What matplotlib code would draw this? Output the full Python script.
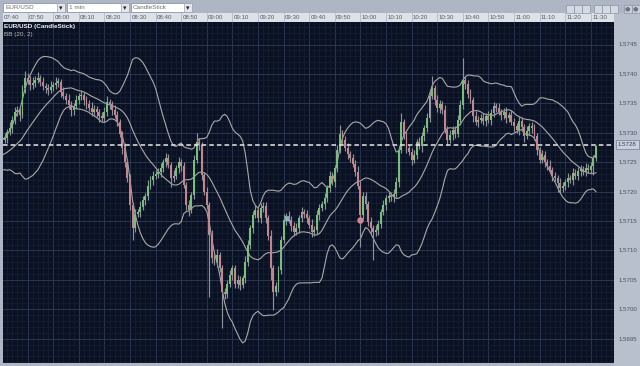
import numpy as np
import pandas as pd
import matplotlib
matplotlib.use("Agg")
import matplotlib.pyplot as plt
from matplotlib.patches import Rectangle
from matplotlib.ticker import MultipleLocator, FixedLocator

plt.rcParams["font.family"] = ["Liberation Sans", "DejaVu Sans"]

# ---------------- data ----------------
symbol = "EUR/USD"
timeframe = "1 min"
chart_type = "CandleStick"

# closes of the 20 minutes before the visible window (feed the BB(20,2))
pre_closes = [1.57245, 1.57250, 1.57240, 1.57254, 1.57257, 1.57249, 1.57254, 1.57262, 1.57257, 1.57250,
              1.57259, 1.57267, 1.57262, 1.57271, 1.57266, 1.57274, 1.57271, 1.57279, 1.57284, 1.57288]

# 1-minute closes, 07:41 ... 11:32
closes = [
    1.57291, 1.57301, 1.57308, 1.57322, 1.57335, 1.57339, 1.57330, 1.57376, 1.57393, 1.57390,
    1.57381, 1.57385, 1.57390, 1.57393, 1.57386, 1.57379, 1.57376, 1.57373, 1.57378, 1.57381,
    1.57385, 1.57386, 1.57369, 1.57362, 1.57356, 1.57347, 1.57339, 1.57346, 1.57356, 1.57362,
    1.57364, 1.57356, 1.57349, 1.57342, 1.57335, 1.57340, 1.57335, 1.57328, 1.57325, 1.57335,
    1.57352, 1.57349, 1.57339, 1.57330, 1.57318, 1.57298, 1.57274, 1.57250, 1.57223, 1.57177,
    1.57138, 1.57162, 1.57165, 1.57174, 1.57186, 1.57193, 1.57210, 1.57220, 1.57227, 1.57230,
    1.57234, 1.57240, 1.57250, 1.57257, 1.57245, 1.57223, 1.57227, 1.57240, 1.57250, 1.57244,
    1.57212, 1.57177, 1.57169, 1.57194, 1.57254, 1.57284, 1.57279, 1.57228, 1.57199, 1.57177,
    1.57126, 1.57087, 1.57081, 1.57093, 1.57070, 1.57029, 1.57026, 1.57043, 1.57058, 1.57070,
    1.57043, 1.57050, 1.57041, 1.57053, 1.57081, 1.57109, 1.57138, 1.57160, 1.57169, 1.57155,
    1.57172, 1.57176, 1.57155, 1.57125, 1.57070, 1.57029, 1.57039, 1.57067, 1.57118, 1.57152,
    1.57159, 1.57152, 1.57142, 1.57131, 1.57138, 1.57155, 1.57165, 1.57162, 1.57155, 1.57143,
    1.57131, 1.57135, 1.57160, 1.57172, 1.57179, 1.57189, 1.57206, 1.57227, 1.57217, 1.57240,
    1.57271, 1.57298, 1.57288, 1.57274, 1.57264, 1.57257, 1.57247, 1.57234, 1.57210, 1.57160,
    1.57193, 1.57179, 1.57148, 1.57138, 1.57131, 1.57135, 1.57145, 1.57165, 1.57177, 1.57189,
    1.57193, 1.57191, 1.57196, 1.57216, 1.57271, 1.57318, 1.57296, 1.57274, 1.57267, 1.57254,
    1.57262, 1.57284, 1.57277, 1.57294, 1.57308, 1.57325, 1.57362, 1.57376, 1.57356, 1.57342,
    1.57349, 1.57339, 1.57305, 1.57288, 1.57296, 1.57305, 1.57298, 1.57322, 1.57347, 1.57390,
    1.57383, 1.57366, 1.57356, 1.57328, 1.57318, 1.57322, 1.57325, 1.57320, 1.57328, 1.57322,
    1.57333, 1.57345, 1.57342, 1.57335, 1.57330, 1.57335, 1.57325, 1.57330, 1.57318, 1.57311,
    1.57305, 1.57320, 1.57310, 1.57294, 1.57303, 1.57311, 1.57308, 1.57294, 1.57271, 1.57254,
    1.57262, 1.57250, 1.57244, 1.57237, 1.57227, 1.57223, 1.57215, 1.57206, 1.57210, 1.57216,
    1.57223, 1.57220, 1.57232, 1.57227, 1.57235, 1.57237, 1.57234, 1.57240, 1.57237, 1.57244,
    1.57257, 1.57277]

# upper / lower wick lengths in pips (0.0001)
wick_up = [
    0.8, 0.5, 1.0, 0.6, 0.9, 0.7, 0.5, 0.6, 1.2, 0.8,
    0.6, 0.9, 0.7, 1.0, 0.5, 0.8, 0.6, 0.7, 1.0, 0.6,
    0.9, 0.7, 0.5, 0.8, 0.6, 1.0, 0.7, 0.5, 0.9, 0.6,
    0.8, 0.5, 0.7, 0.6, 1.0, 0.8, 0.5, 0.6, 0.7, 0.9,
    1.0, 0.6, 0.5, 0.8, 0.7, 0.6, 0.5, 0.9, 0.6, 0.7,
    0.5, 0.8, 0.6, 1.0, 0.7, 0.5, 0.9, 0.6, 0.8, 0.7,
    0.6, 0.9, 0.5, 0.8, 0.7, 0.6, 1.0, 0.5, 0.8, 0.6,
    0.7, 0.5, 0.9, 0.6, 0.8, 1.5, 0.7, 0.6, 0.5, 0.9,
    0.6, 0.8, 0.7, 1.0, 0.5, 0.6, 0.8, 0.7, 0.9, 0.6,
    0.5, 0.8, 0.7, 0.6, 1.0, 0.8, 0.6, 0.7, 0.9, 0.5,
    0.8, 0.6, 0.7, 0.5, 0.9, 0.6, 0.8, 0.7, 0.6, 1.0,
    0.5, 0.8, 0.6, 0.7, 0.9, 0.6, 0.8, 0.5, 0.7, 0.6,
    1.0, 0.6, 0.8, 0.7, 0.5, 0.9, 0.6, 0.8, 0.7, 0.6,
    0.9, 1.5, 0.7, 0.6, 0.8, 0.5, 0.7, 0.6, 0.9, 0.8,
    0.6, 0.7, 0.5, 0.8, 0.6, 0.9, 0.7, 0.6, 0.8, 0.5,
    0.7, 0.6, 0.9, 0.8, 0.7, 1.5, 0.6, 0.8, 0.5, 0.7,
    0.9, 0.6, 0.8, 0.7, 0.6, 0.9, 1.0, 2.0, 0.6, 0.8,
    0.7, 0.5, 0.9, 0.6, 0.8, 0.7, 0.6, 0.9, 0.8, 3.7,
    0.7, 0.6, 0.8, 0.5, 0.9, 0.6, 0.7, 0.8, 0.6, 0.9,
    0.7, 0.8, 0.6, 0.9, 0.5, 0.7, 0.8, 0.6, 0.9, 0.7,
    0.6, 0.8, 0.7, 0.5, 0.9, 0.6, 0.8, 0.7, 0.6, 0.5,
    0.8, 0.7, 0.6, 0.9, 0.5, 0.7, 0.6, 0.8, 0.7, 0.6,
    0.9, 0.5, 0.8, 0.6, 0.7, 0.9, 0.6, 0.8, 0.7, 0.6,
    0.5, 0.3]
wick_dn = [
    0.6, 0.8, 0.5, 0.9, 0.7, 0.6, 1.0, 0.5, 0.8, 0.7,
    0.9, 0.6, 0.8, 0.5, 0.7, 0.6, 0.9, 0.8, 0.5, 0.7,
    0.6, 0.8, 0.9, 0.5, 0.7, 0.6, 1.0, 0.8, 0.5, 0.7,
    0.6, 0.9, 0.8, 0.5, 0.7, 0.6, 0.8, 1.0, 0.5, 0.7,
    0.6, 0.8, 0.9, 0.5, 0.7, 0.6, 1.0, 0.8, 0.6, 0.9,
    2.0, 0.7, 0.6, 0.8, 0.5, 0.9, 0.7, 0.6, 0.8, 0.5,
    0.7, 0.9, 0.6, 0.8, 0.5, 1.5, 0.7, 0.6, 0.8, 0.9,
    0.6, 0.8, 1.0, 0.5, 0.7, 0.6, 0.8, 0.9, 0.5, 0.7,
    10.5, 0.8, 0.6, 0.9, 0.7, 6.0, 0.8, 0.6, 0.5, 0.9,
    0.7, 0.6, 0.8, 0.5, 0.9, 0.7, 0.6, 0.8, 0.5, 0.7,
    0.9, 0.6, 0.8, 0.7, 2.0, 3.0, 0.6, 0.9, 0.7, 0.5,
    0.8, 0.6, 0.9, 0.7, 0.5, 0.8, 0.6, 0.7, 0.9, 0.5,
    0.8, 0.6, 0.7, 0.9, 0.5, 0.8, 0.6, 0.7, 0.5, 0.9,
    0.7, 0.6, 0.8, 0.5, 0.9, 0.7, 0.6, 0.8, 0.5, 5.4,
    0.7, 0.9, 0.6, 0.8, 4.7, 0.6, 0.9, 0.7, 0.5, 0.8,
    0.6, 0.7, 0.9, 0.5, 0.8, 0.6, 0.7, 0.9, 0.5, 0.8,
    0.6, 0.7, 0.5, 0.9, 0.8, 0.6, 0.7, 0.5, 0.9, 0.6,
    0.8, 0.7, 0.5, 0.9, 0.6, 0.8, 0.7, 0.5, 0.9, 0.6,
    0.8, 0.7, 0.6, 0.9, 0.5, 0.8, 0.6, 0.7, 0.9, 0.5,
    0.8, 0.6, 0.7, 0.5, 0.9, 0.6, 0.8, 0.7, 0.5, 0.9,
    0.6, 0.8, 0.7, 0.9, 0.5, 0.6, 0.8, 0.7, 0.9, 0.6,
    0.5, 0.8, 0.7, 0.6, 0.9, 0.5, 1.5, 0.8, 0.6, 0.7,
    0.9, 0.5, 0.8, 0.6, 0.7, 0.9, 0.6, 0.8, 0.5, 0.7,
    1.5, 0.5]

current_price = 1.5728
price_ticks = [1.5695, 1.5700, 1.5705, 1.5710, 1.5715, 1.5720, 1.5725, 1.5730, 1.5735, 1.5740, 1.5745]
time_labels = ["07:40", "07:50", "08:00", "08:10", "08:20", "08:30", "08:40", "08:50", "09:00",
               "09:10", "09:20", "09:30", "09:40", "09:50", "10:00", "10:10", "10:20", "10:30",
               "10:40", "10:50", "11:00", "11:10", "11:20", "11:30"]
buy_marker_min, buy_marker_price = [111.3], [1.57155]
sell_marker_min, sell_marker_price = [139.8], [1.57152]

# ---------------- derived ----------------
all_closes = pd.Series(pre_closes + closes)
mid = all_closes.rolling(20).mean()
sd = all_closes.rolling(20).std(ddof=0)
upper, lower = mid + 2 * sd, mid - 2 * sd
n_pre = len(pre_closes)
t_all = np.arange(len(all_closes)) - (n_pre - 1)  # minute index; 0 = 07:40

c = np.array(closes)
o = np.array([pre_closes[-1]] + closes[:-1])
h = np.maximum(o, c) + np.array(wick_up) * 1e-4
l = np.minimum(o, c) - np.array(wick_dn) * 1e-4
t = np.arange(1, len(closes) + 1)

# ---------------- figure ----------------
W, H = 640, 366
fig = plt.figure(figsize=(W / 100, H / 100), dpi=100)
fig.patch.set_facecolor("#aeb6c5")

def fr(x0, y0, x1, y1):
    return [x0 / W, 1 - y1 / H, (x1 - x0) / W, (y1 - y0) / H]

# right price strip (slightly lighter), drawn beneath everything
fig.patches.append(Rectangle((614 / W, 0), 26 / W, 1 - 13 / H, transform=fig.transFigure,
                             fc="#b9c0cd", ec="none", zorder=-10))

PL, PT, PR, PB = 3, 22, 614, 363
ax = fig.add_axes(fr(PL, PT, PR, PB))
ax.set_zorder(2)
ax.set_facecolor("#0a1122")
x_lo, x_hi = (PL - 2) / 2.56, (PR - 2) / 2.56
y_hi = 1.5745 + (44.5 - PT) / 58840
y_lo = 1.5745 - (PB - 44.5) / 58840
ax.set_xlim(x_lo, x_hi)
ax.set_ylim(y_lo, y_hi)

ax.xaxis.set_major_locator(MultipleLocator(10))
ax.xaxis.set_minor_locator(MultipleLocator(2))
ax.yaxis.set_major_locator(FixedLocator(price_ticks))
ax.yaxis.set_minor_locator(MultipleLocator(0.0001))
ax.grid(which="minor", color="#172036", lw=0.5)
ax.grid(which="major", color="#2b3652", lw=0.7)
ax.set_axisbelow(True)
ax.tick_params(axis="x", which="both", length=0, labelbottom=False)
ax.yaxis.tick_right()
ax.tick_params(axis="y", which="both", length=0, pad=3.5, labelsize=4.4, labelcolor="#4a505c")
ax.set_yticklabels([f"{p:.4f}" for p in price_ticks])
for s in ax.spines.values():
    s.set_visible(False)

# Bollinger bands
for band in (upper, mid, lower):
    ax.plot(t_all, band, color="#a9a9a9", lw=0.8, zorder=2)

# candles
up = c >= o
wick_col = "#8d929c"
ax.vlines(t, l, h, color=wick_col, lw=0.85, zorder=3)
body_h = np.maximum(np.abs(c - o), 0.00003)
ax.bar(t[up], body_h[up], bottom=np.minimum(o, c)[up], width=0.74,
       color="#78c078", edgecolor="none", zorder=4)
ax.bar(t[~up], body_h[~up], bottom=np.minimum(o, c)[~up], width=0.74,
       color="#c4858c", edgecolor="none", zorder=4)

# markers
ax.scatter(buy_marker_min, buy_marker_price, marker="^", s=16, color="#6fb5f0", zorder=5, lw=0)
ax.scatter(sell_marker_min, sell_marker_price, marker="o", s=22, color="#d0868e", zorder=5, lw=0)

# current price line
ax.axhline(current_price, color="#e6e6e6", lw=1.1, ls=(0, (3, 2)), zorder=6)
ax.text(1.0 + 4 / (PR - PL), current_price, f"{current_price:.4f}", transform=ax.get_yaxis_transform(),
        ha="left", va="center", fontsize=4.4, color="#3c424e", zorder=7, clip_on=False,
        bbox=dict(boxstyle="square,pad=0.3", fc="#c9d1de", ec="#7d8ba3", lw=0.6))

ax.text(0.002, 0.995, f"{symbol} ({chart_type})", transform=ax.transAxes, ha="left", va="top",
        fontsize=4.6, color="#f0f0f0", fontweight="bold")
ax.text(0.002, 0.972, "BB (20, 2)", transform=ax.transAxes, ha="left", va="top",
        fontsize=4.6, color="#b8b8b8")

# time bar
axt = fig.add_axes(fr(PL, 13, PR, 22))
axt.set_facecolor("#dde1e8")
axt.set_xlim(x_lo, x_hi)
axt.set_ylim(0, 1)
axt.set_xticks([])
axt.set_yticks([])
for s in axt.spines.values():
    s.set_visible(False)
for k, lab in enumerate(time_labels):
    m = 10 * k
    axt.axvline(m, color="#b4bac6", lw=0.6)
    axt.text(m + 0.5, 0.5, lab, ha="left", va="center", fontsize=4.4, color="#555b66")

# toolbar combo boxes
def combo(x0, x1, label):
    fig.patches.append(Rectangle((x0 / W, 1 - 12 / H), (x1 - x0) / W, 9 / H, transform=fig.transFigure,
                                 fc="white", ec="#8d96a6", lw=0.6))
    fig.patches.append(Rectangle(((x1 - 8) / W, 1 - 11.5 / H), 7.5 / W, 8 / H, transform=fig.transFigure,
                                 fc="#e4e7ed", ec="#9aa2b0", lw=0.5))
    fig.text((x1 - 4.2) / W, 1 - 7.6 / H, "▾", ha="center", va="center", fontsize=5,
             color="#222", family="DejaVu Sans")
    fig.text((x0 + 2) / W, 1 - 7.5 / H, label, ha="left", va="center", fontsize=4.6, color="#6a6f78")

combo(3, 65, symbol)
combo(67, 129, timeframe)
combo(131, 192, chart_type)

# toolbar icons at top right
for x0 in (566, 574, 582, 594, 602, 610):
    fig.patches.append(Rectangle((x0 / W, 1 - 13 / H), 7.5 / W, 8.5 / H, transform=fig.transFigure,
                                 fc="#d4d9e2", ec="#8c95a5", lw=0.5))
for x0 in (624, 632):
    fig.patches.append(Rectangle((x0 / W, 1 - 13 / H), 7.5 / W, 8.5 / H, transform=fig.transFigure,
                                 fc="#c8ced8", ec="#8c95a5", lw=0.5))
    fig.text((x0 + 3.8) / W, 1 - 8.7 / H, "●", ha="center", va="center", fontsize=4.5,
             color="#6d7380", family="DejaVu Sans")

fig.savefig("out.png", dpi=100, facecolor=fig.get_facecolor())
